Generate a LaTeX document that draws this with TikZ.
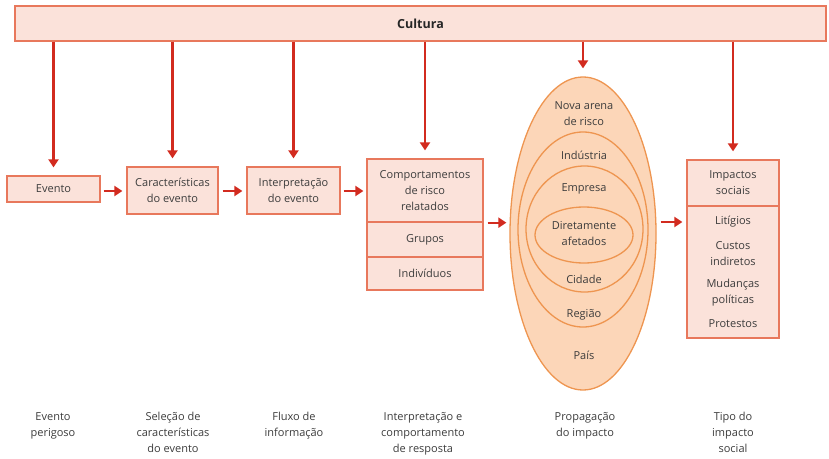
\documentclass[tikz,border=0pt]{standalone}
\usepackage{fontspec}
\setmainfont{Open Sans}
\usetikzlibrary{arrows.meta,shapes.geometric}
\definecolor{boxfill}{HTML}{FBE2DA}
\definecolor{boxline}{HTML}{E8785C}
\definecolor{arrred}{HTML}{D22B1F}
\definecolor{ellfill}{HTML}{FCD6B8}
\definecolor{ellline}{HTML}{EE9550}
\definecolor{txt}{HTML}{3C3C3C}
\begin{document}
\begin{tikzpicture}[x=1pt,y=-1pt,
  box/.style={draw=boxline, fill=boxfill, line width=1.3pt, inner sep=0pt, text=txt,
    font=\fontsize{11}{16}\selectfont, align=center, rectangle},
  ell/.style={draw=ellline, fill=ellfill, line width=1.3pt, ellipse, inner sep=0pt},
  lbl/.style={text=txt, font=\fontsize{11}{16}\selectfont, align=center, inner sep=0pt},
  arr/.style={draw=arrred, line width=2.2pt, -{Triangle[length=8pt,width=10pt]}}
]
\useasboundingbox (0,0) rectangle (829,458);
% culture bar
\node[box, minimum width=811, minimum height=35, font=\fontsize{12.5}{16}\selectfont\bfseries, text=black!85]
  (cultura) at (420.5,23.5) {Cultura};
% boxes
\node[box, minimum width=93, minimum height=26] (evento) at (53.5,189) {Evento};
\node[box, minimum width=91, minimum height=47] (caract) at (172.5,190.5) {Características\\do evento};
\node[box, minimum width=93, minimum height=47] (interp) at (293.5,190.5) {Interpretação\\do evento};
\node[box, minimum width=116, minimum height=63] (comp1) at (425,190.5) {Comportamentos\\de risco\\relatados};
\node[box, minimum width=116, minimum height=35] (comp2) at (425,239.5) {Grupos};
\node[box, minimum width=116, minimum height=33] (comp3) at (425,273.5) {Indivíduos};
% ellipses
\node[ell, minimum width=146, minimum height=313] (outer) at (583,233.5) {};
\node[ell, minimum width=130, minimum height=195] (e2) at (583,229.5) {};
\node[ell, minimum width=117, minimum height=126] (e3) at (584.5,229) {};
\node[ell, minimum width=98, minimum height=56] (e4) at (584,235) {};
\node[lbl] (nova) at (584,114) {Nova arena\\de risco};
\node[lbl] (ind) at (584,155) {Indústria};
\node[lbl] (emp) at (584,189) {Empresa};
\node[lbl] (dir) at (584,234) {Diretamente\\afetados};
\node[lbl] (cid) at (584,279) {Cidade};
\node[lbl] (reg) at (584,315) {Região};
\node[lbl] (pais) at (584,355) {País};
% impacts
\node[box, minimum width=92, minimum height=46] (imp1) at (733,183) {Impactos\\sociais};
\node[box, minimum width=92, minimum height=132] (imp2) at (733,272) {};
\node[lbl] (lit) at (733,222) {Litígios};
\node[lbl] (cust) at (733,254) {Custos\\indiretos};
\node[lbl] (mud) at (733,293) {Mudanças\\políticas};
\node[lbl] (prot) at (733,324) {Protestos};
% culture arrows
\foreach \t in {evento,caract,interp,comp1,outer,imp1}
  \draw[arr, shorten >=8pt] (\t.north |- cultura.south) -- (\t.north);
% flow arrows
\draw[arr, shorten <=3pt, shorten >=4pt] (evento.east |- 0,191) -- (caract.west |- 0,191);
\draw[arr, shorten <=4pt, shorten >=4pt] (caract.east |- 0,191) -- (interp.west |- 0,191);
\draw[arr, shorten <=3pt, shorten >=3pt] (interp.east |- 0,191) -- (comp1.west |- 0,191);
\draw[arr, shorten <=4pt, shorten >=3pt] (comp1.south east) -- (outer.west |- comp1.south east);
\draw[arr, shorten <=4pt, shorten >=4pt] (outer.east |- lit.center) -- (imp2.west |- lit.center);
% stage labels
\foreach \n/\x/\t in {l1/53/{Evento\\perigoso}, l2/173/{Seleção de\\características\\do evento},
  l3/294/{Fluxo de\\informação}, l4/423/{Interpretação e\\comportamento\\de resposta},
  l5/585/{Propagação\\do impacto}, l6/733/{Tipo do\\impacto\\social}}
  \node[lbl, anchor=north] (\n) at (\x,412) {\t};
\end{tikzpicture}
\end{document}
